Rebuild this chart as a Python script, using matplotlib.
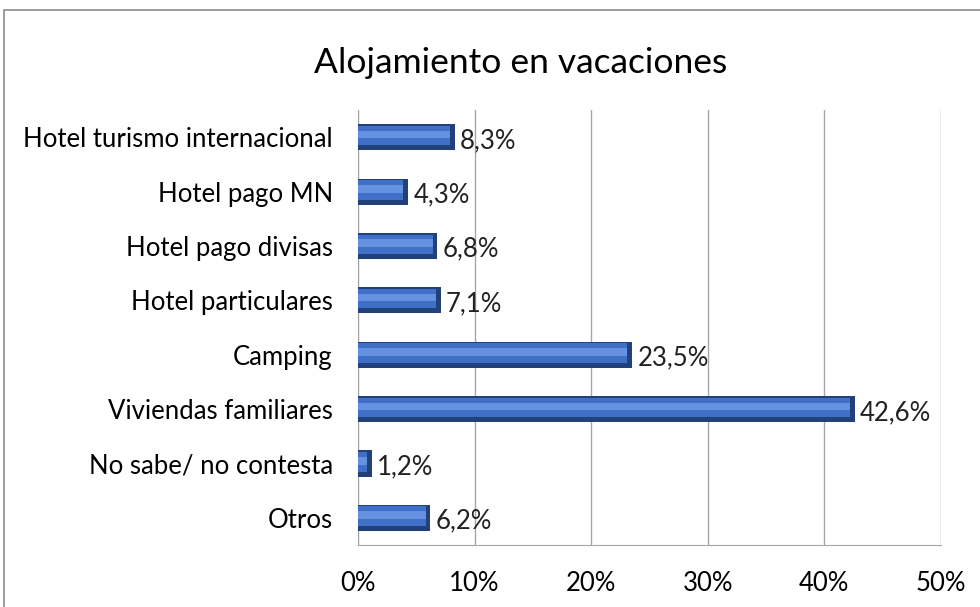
import matplotlib.pyplot as plt
from matplotlib.patches import Rectangle

categorias = ["Hotel turismo internacional", "Hotel pago MN", "Hotel pago divisas",
              "Hotel particulares", "Camping", "Viviendas familiares",
              "No sabe/ no contesta", "Otros"]
valores = [8.3, 4.3, 6.8, 7.1, 23.5, 42.6, 1.2, 6.2]
etiquetas = ["8,3%", "4,3%", "6,8%", "7,1%", "23,5%", "42,6%", "1,2%", "6,2%"]
ticks = [0, 10, 20, 30, 40, 50]

plt.rcParams['font.family'] = ['Lato', 'DejaVu Sans']

fig = plt.figure(figsize=(9.8, 6.07), dpi=100)
ax = fig.add_axes([0.3653, 0.1021, 0.5949, 0.7167])

# marco exterior del grafico
fig.patches.append(Rectangle((4 / 980, -0.1), 1.2, 1.1 - 10 / 607, transform=fig.transFigure,
                             fill=False, edgecolor="#8c8c8c", linewidth=1.2))

y = list(range(len(categorias)))
bev = 0.4
interior = [max(v - bev, 0.05) for v in valores]
# barra base oscura, relleno medio y brillo central (efecto bisel)
ax.barh(y, valores, height=0.48, color="#22407a", zorder=3)
ax.barh([p - 0.03 for p in y], interior, height=0.36, color="#3f6fc6", zorder=4)
ax.barh([p - 0.05 for p in y], interior, height=0.14, color="#6592e0", zorder=5)

for p, v, t in zip(y, valores, etiquetas):
    ax.text(v + 0.45, p + 0.06, t, va="center", ha="left", fontsize=18.5, color="#222222", zorder=6)

ax.set_xlim(0, 50)
ax.set_ylim(len(categorias) - 0.5, -0.5)
ax.set_xticks(ticks)
ax.set_xticklabels([f"{t}%" for t in ticks])
ax.set_yticks(y)
ax.set_yticklabels(categorias)
ax.tick_params(axis="x", length=0, pad=19, labelsize=18.5)
ax.tick_params(axis="y", length=0, pad=18, labelsize=18.5)
ax.grid(axis="x", color="#a6a6a6", linewidth=1, zorder=0)
for s in ["top", "right"]:
    ax.spines[s].set_visible(False)
for s in ["left", "bottom"]:
    ax.spines[s].set_color("#a6a6a6")

fig.text(0.531, 0.897, "Alojamiento en vacaciones", ha="center", va="center", fontsize=25.5)

fig.savefig("out.png", dpi=100)
